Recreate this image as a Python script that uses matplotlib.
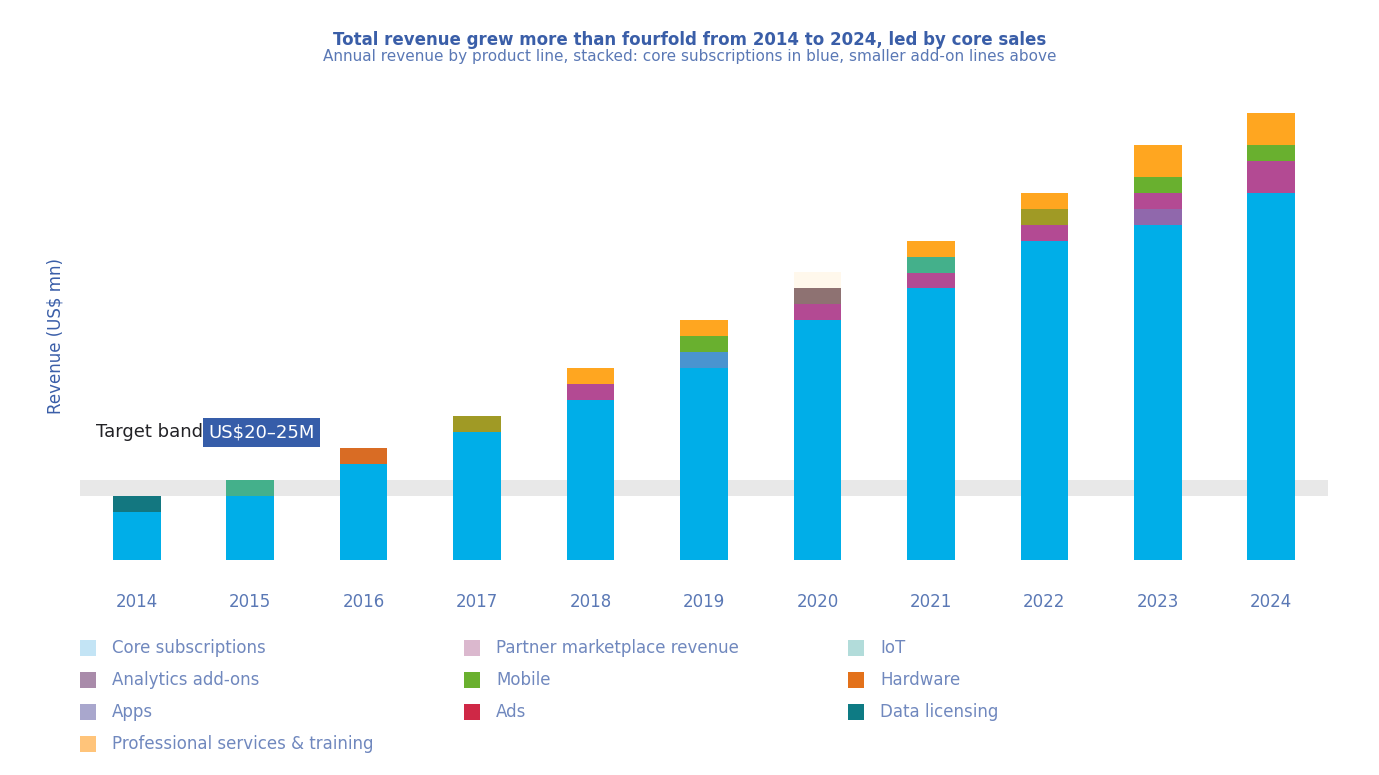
"""Stacked revenue bars by product line, 2014-2024."""

import matplotlib

matplotlib.use("Agg")
import matplotlib.pyplot as plt
from matplotlib.patches import Rectangle

years = ["2014", "2015", "2016", "2017", "2018", "2019",
         "2020", "2021", "2022", "2023", "2024"]

# stacking order, bottom to top (US$ million)
segment_names = ["Core", "Services", "Cloud", "Labs", "Apps", "Devices",
                 "Support", "Print", "Mobile", "Hardware", "Ads", "Other"]
segment_colors = ["#00AEE8", "#137780", "#4A94D0", "#9068AC", "#B34A93", "#8E7272",
                  "#44B08B", "#A09A25", "#69B02F", "#D96C24", "#FFA620", "#FFF8EC"]
core = [15, 20, 30, 40, 50, 60, 75, 85, 100, 105, 115]
services = [5, 0, 0, 0, 0, 0, 0, 0, 0, 0, 0]
cloud = [0, 0, 0, 0, 0, 5, 0, 0, 0, 0, 0]
labs = [0, 0, 0, 0, 0, 0, 0, 0, 0, 5, 0]
apps = [0, 0, 0, 0, 5, 0, 5, 5, 5, 5, 10]
devices = [0, 0, 0, 0, 0, 0, 5, 0, 0, 0, 0]
support = [0, 5, 0, 0, 0, 0, 0, 5, 0, 0, 0]
print_ = [0, 0, 0, 5, 0, 0, 0, 0, 5, 0, 0]
mobile = [0, 0, 0, 0, 0, 5, 0, 0, 0, 5, 5]
hardware = [0, 0, 5, 0, 0, 0, 0, 0, 0, 0, 0]
ads = [0, 0, 0, 0, 5, 5, 0, 5, 5, 10, 10]
other = [0, 0, 0, 0, 0, 0, 5, 0, 0, 0, 0]
segments = [core, services, cloud, labs, apps, devices,
            support, print_, mobile, hardware, ads, other]

target_band = (20, 25)

legend_labels = ["Core subscriptions", "Analytics add-ons", "Apps",
                 "Professional services & training",
                 "Partner marketplace revenue", "Mobile", "Ads",
                 "IoT", "Hardware", "Data licensing"]
legend_colors = ["#C3E4F5", "#A98BAA", "#A9A7CD", "#FFC47A",
                 "#DBB8CE", "#6AB02E", "#CF2846",
                 "#B2DCDA", "#E3711A", "#0E7B84"]

BLUE = "#3A5EA8"
W, H = 1379, 775

fig = plt.figure(figsize=(W / 100, H / 100), dpi=100)
ax = fig.add_axes([80 / W, 1 - 560 / H, 1248 / W, 460 / H])

x = list(range(len(years)))
bottom = [0] * len(years)
for vals, color in zip(segments, segment_colors):
    ax.bar(x, vals, width=0.42, bottom=bottom, color=color, zorder=2)
    bottom = [b + v for b, v in zip(bottom, vals)]

ax.axhspan(*target_band, color="#E8E8E8", zorder=0, lw=0)

ax.set_xlim(-0.5, len(years) - 0.5)
ax.set_ylim(0, 144)
ax.set_yticks([])
ax.set_xticks(x, years)
ax.tick_params(axis="x", length=0, pad=24, labelsize=12, labelcolor="#5A78B5")
for s in ax.spines.values():
    s.set_visible(False)

t1 = ax.text(-0.36, 40, "Target band ", fontsize=13, color="#222226", va="center")
ax.annotate("US$20–25M", xy=(1, 0.5), xycoords=t1, va="center", fontsize=13,
            color="white",
            bbox=dict(boxstyle="square,pad=0.3", fc="#365DA9", ec="none"))

fig.text(56 / W, 1 - 336 / H, "Revenue (US$ mn)", rotation=90,
         ha="center", va="center", fontsize=12, color=BLUE)

fig.text(0.5, 1 - 40 / H,
         "Total revenue grew more than fourfold from 2014 to 2024, led by core sales",
         ha="center", va="center", fontsize=12, fontweight="bold", color=BLUE)
fig.text(0.5, 1 - 57 / H,
         "Annual revenue by product line, stacked: core subscriptions in blue, smaller add-on lines above",
         ha="center", va="center", fontsize=11, color="#5A78B5")

# legend: three fixed-width columns
col_x = [80, 464, 848]
row_y = [648, 680, 712, 744]
slots = [(0, 0), (0, 1), (0, 2), (0, 3), (1, 0), (1, 1), (1, 2), (2, 0), (2, 1), (2, 2)]
for (c, r), label, color in zip(slots, legend_labels, legend_colors):
    px, py = col_x[c], row_y[r]
    fig.patches.append(Rectangle((px / W, 1 - (py + 8) / H), 16 / W, 16 / H,
                                 transform=fig.transFigure, fc=color, ec="none"))
    fig.text((px + 32) / W, 1 - py / H, label, ha="left", va="center",
             fontsize=12, color="#7088BE")

fig.savefig("out.png", dpi=100)
